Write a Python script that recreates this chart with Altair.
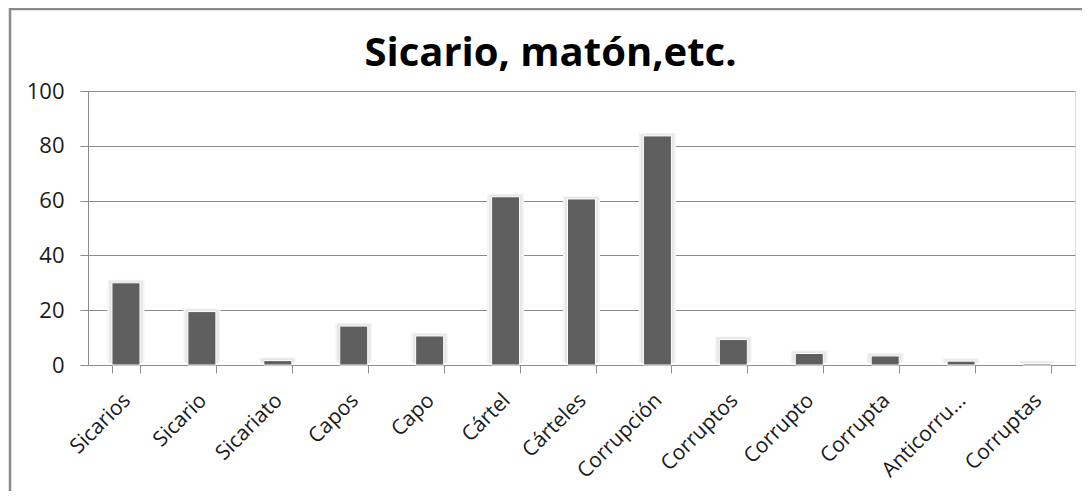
import altair as alt
import pandas as pd

categories = ["Sicarios", "Sicario", "Sicariato", "Capos", "Capo", "Cártel",
              "Cárteles", "Corrupción", "Corruptos", "Corrupto", "Corrupta",
              "Anticorru...", "Corruptas"]
values = [30, 19.5, 1.6, 14.2, 10.6, 61.4, 60.6, 83.6, 9.3, 4.2, 3.3, 1.4, 0.5]
y_ticks = [0, 20, 40, 60, 80, 100]
title_text = "Sicario, matón,etc."

df = pd.DataFrame({"cat": categories, "val": values})

W, H = 987, 274
FONT = "Open Sans"

x_enc = alt.X("cat:N", sort=categories, title=None,
              scale=alt.Scale(paddingInner=0.63, paddingOuter=0.315),
              axis=alt.Axis(labelAngle=-45, labelAlign="right", labelBaseline="middle",
                            labelFont=FONT, labelFontSize=21, labelColor="#1a1a1a",
                            labelPadding=24, labelOffset=1, tickBand="extent", tickSize=8,
                            tickColor="#8c8c8c", domainColor="#8c8c8c",
                            grid=False, labelOverlap=False))
y_enc = alt.Y("val:Q", title=None,
              scale=alt.Scale(domain=[0, 100], nice=False),
              axis=alt.Axis(values=y_ticks, labelFont=FONT, labelFontSize=22,
                            labelColor="#1a1a1a", tickSize=8, tickColor="#8c8c8c",
                            domainColor="#8c8c8c", gridColor="#8c8c8c", grid=True,
                            labelPadding=16))

base = alt.Chart(df)

glow_outer = base.mark_bar(size=37, color="#f4f4f4", yOffset=-3, y2Offset=0).encode(x=x_enc, y=y_enc)
glow_inner = base.mark_bar(size=33, color="#e6e6e6", yOffset=-2, y2Offset=0).encode(x=x_enc, y=y_enc)
bars = base.mark_bar(size=28, color="#5f5f5f", stroke="white", strokeWidth=1).encode(x=x_enc, y=y_enc)

frame = alt.Chart(pd.DataFrame({"f": [0]})).mark_rect(
    filled=False, stroke="#8a8a8a", strokeWidth=2.5
).encode(x=alt.value(-78), x2=alt.value(W + 60), y=alt.value(-82), y2=alt.value(H + 300))

chart = alt.layer(frame, glow_outer, glow_inner, bars).properties(
    width=W, height=H,
    title=alt.TitleParams(title_text, font=FONT, fontSize=40, fontWeight="bold",
                          color="#000000", anchor="middle", dx=-31, offset=-66),
    autosize=alt.AutoSizeParams(type="none"),
    padding={"left": 80, "top": 83, "right": 7, "bottom": 126},
).configure_view(stroke=None).configure(background="white")

chart.save("out.html", embed_options={"renderer": "svg", "actions": False})
